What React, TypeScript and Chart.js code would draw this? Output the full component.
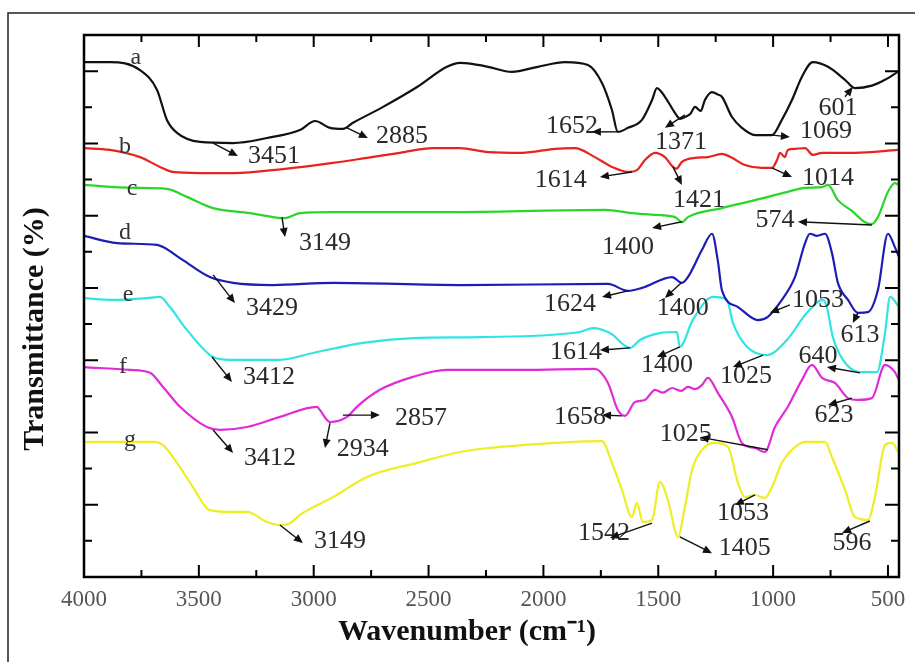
import { useEffect, useRef } from 'react';
import { Chart, registerables } from 'chart.js';

Chart.register(...registerables);

// ---------- data ----------
const wavenumberTicks = [4000, 3500, 3000, 2500, 2000, 1500, 1000, 500];
const seriesNames = ['a', 'b', 'c', 'd', 'e', 'f', 'g'];
const seriesColors = ['#111111', '#e8221e', '#2ad62a', '#1c1cb6', '#30e4e4', '#e02cd6', '#eeee26'];
// [wavenumber, transmittance (offset, arbitrary units)]
const nameAnchors: [number, number][] = [
  [3774, 143.6], [3822, 119.0], [3791, 107.4], [3822, 95.2], [3808, 78.1], [3830, 58.1], [3800, 37.9],
];

const spectrumA: [number, number][] = [
  [4000, 142.5], [3887, 142.5], [3756, 140.3], [3682, 134.8], [3639, 126.5], [3595, 122.9], [3495, 120.4],
  [3351, 120.1], [3203, 121.5], [3060, 123.7], [2994, 126.2], [2929, 124.3], [2873, 124.0], [2829, 125.7],
  [2698, 130.1], [2550, 135.6], [2420, 141.2], [2363, 142.3], [2311, 142.0], [2241, 141.2], [2137, 139.8],
  [2024, 141.2], [1906, 142.5], [1806, 141.7], [1745, 136.7], [1702, 129.3], [1676, 123.2], [1632, 124.3],
  [1571, 126.5], [1527, 132.0], [1506, 135.3], [1471, 132.9], [1427, 128.4], [1405, 126.8], [1384, 127.3],
  [1360, 128.2], [1340, 130.1], [1315, 129.0], [1297, 132.0], [1266, 134.2], [1240, 133.5], [1223, 132.9],
  [1179, 127.3], [1136, 124.3], [1079, 122.3], [1005, 122.3], [962, 126.5], [918, 132.0], [875, 138.4],
  [827, 142.5], [761, 141.2], [687, 137.6], [644, 135.3], [570, 136.0], [513, 137.6], [457, 139.8],
];

const spectrumB: [number, number][] = [
  [4000, 118.7], [3887, 118.2], [3756, 116.2], [3669, 113.5], [3613, 112.1], [3495, 111.8], [3351, 111.8],
  [3134, 112.9], [2916, 114.6], [2768, 116.0], [2624, 117.4], [2481, 118.7], [2363, 118.7], [2241, 117.6],
  [2093, 117.4], [1950, 118.5], [1863, 118.7], [1776, 116.2], [1702, 113.5], [1632, 112.1], [1593, 112.6],
  [1558, 115.4], [1514, 117.4], [1471, 116.2], [1436, 113.5], [1421, 113.0], [1397, 114.9], [1340, 116.0],
  [1284, 116.2], [1223, 117.1], [1179, 116.0], [1123, 114.0], [1049, 113.2], [1005, 113.2], [983, 115.4],
  [970, 117.4], [949, 116.2], [936, 118.2], [905, 118.5], [861, 118.7], [827, 116.8], [787, 117.4],
  [644, 117.4], [457, 118.2],
];

const spectrumC: [number, number][] = [
  [4000, 108.5], [3787, 107.7], [3639, 107.4], [3552, 105.2], [3438, 102.1], [3277, 100.7], [3177, 99.6],
  [3130, 99.3], [3060, 100.7], [2916, 101.0], [2363, 101.0], [1732, 101.6], [1615, 100.7], [1514, 100.2],
  [1427, 99.6], [1397, 98.2], [1371, 99.6], [1223, 102.1], [1079, 104.3], [936, 106.6], [861, 107.7],
  [787, 107.9], [761, 108.5], [718, 104.3], [657, 101.3], [600, 98.2], [570, 97.7], [544, 99.6], [500, 106.6],
  [470, 109.0], [452, 108.5],
];

const spectrumD: [number, number][] = [
  [4000, 94.4], [3856, 92.4], [3682, 91.9], [3656, 91.3], [3569, 87.7], [3452, 83.0], [3351, 81.4],
  [3177, 80.8], [2916, 81.4], [2363, 80.8], [1719, 81.1], [1632, 79.2], [1571, 80.0], [1440, 83.0],
  [1397, 81.4], [1371, 83.0], [1310, 90.5], [1266, 95.0], [1240, 87.2], [1223, 79.4], [1153, 74.7],
  [1066, 71.1], [1023, 72.0], [962, 76.7], [905, 83.0], [861, 92.4], [840, 95.0], [809, 94.4], [774, 95.0],
  [744, 89.7], [718, 81.4], [674, 76.7], [631, 73.1], [587, 73.3], [544, 79.4], [500, 95.0], [470, 91.3],
  [452, 88.6],
];

const spectrumE: [number, number][] = [
  [4000, 77.2], [3874, 76.7], [3726, 77.2], [3669, 77.5], [3626, 74.7], [3552, 68.4], [3438, 60.9],
  [3364, 60.1], [3147, 60.1], [3003, 62.0], [2786, 64.8], [2568, 66.1], [2276, 66.4], [1841, 67.8],
  [1784, 68.9], [1710, 67.5], [1623, 63.4], [1580, 65.6], [1493, 67.5], [1419, 67.8], [1406, 63.7],
  [1350, 71.1], [1262, 77.5], [1201, 76.7], [1175, 70.3], [1114, 63.7], [1027, 61.4], [940, 65.6],
  [853, 73.1], [783, 76.7], [766, 74.7], [740, 66.4], [696, 60.1], [622, 56.7], [548, 56.7], [513, 67.5],
  [491, 77.5], [452, 74.7],
];

const spectrumF: [number, number][] = [
  [4000, 58.1], [3800, 57.3], [3713, 56.5], [3656, 52.6], [3582, 47.1], [3465, 41.5], [3408, 40.7],
  [3290, 41.5], [3147, 44.3], [2986, 47.1], [2973, 46.2], [2929, 42.9], [2855, 44.3], [2812, 47.1],
  [2712, 51.8], [2568, 55.4], [2420, 57.3], [2093, 57.3], [1776, 57.6], [1719, 53.7], [1676, 46.2],
  [1645, 44.6], [1602, 48.4], [1558, 49.0], [1514, 51.8], [1480, 51.0], [1440, 52.3], [1400, 51.5],
  [1371, 52.6], [1340, 52.0], [1310, 53.1], [1284, 55.1], [1240, 50.9], [1179, 44.3], [1136, 37.1],
  [1079, 35.7], [1036, 34.6], [992, 41.5], [936, 47.1], [875, 54.5], [831, 58.7], [787, 55.1], [731, 53.7],
  [674, 49.5], [631, 49.0], [570, 49.5], [513, 58.7], [470, 56.7], [452, 54.5],
];

const spectrumG: [number, number][] = [
  [4000, 37.4], [3700, 37.4], [3656, 36.5], [3595, 31.6], [3526, 24.9], [3452, 18.5], [3351, 18.0],
  [3290, 18.0], [3203, 15.2], [3147, 14.4], [3103, 14.9], [3060, 17.2], [2916, 22.1], [2768, 27.7],
  [2550, 31.6], [2363, 34.6], [2241, 35.7], [2093, 36.5], [1950, 37.1], [1745, 37.6], [1702, 31.6],
  [1658, 24.1], [1615, 16.6], [1593, 20.5], [1567, 15.2], [1527, 15.8], [1493, 26.3], [1458, 21.3],
  [1414, 11.1], [1384, 19.4], [1353, 29.6], [1297, 36.0], [1253, 37.1], [1197, 36.0], [1153, 26.0],
  [1123, 22.1], [1079, 22.7], [1036, 21.9], [1005, 24.9], [962, 31.6], [918, 35.2], [861, 37.4], [774, 37.4],
  [744, 33.2], [687, 24.1], [644, 16.6], [587, 15.8], [557, 22.1], [513, 36.5], [483, 37.1], [452, 34.3],
];

const spectra = [spectrumA, spectrumB, spectrumC, spectrumD, spectrumE, spectrumF, spectrumG];

// peak labels: text, label centre, arrow start, arrow head (all in data units)
type Peak = { text: string; at: [number, number]; from: [number, number]; to: [number, number] };
const peakLabels: Peak[] = [
  { text: '3451', at: [3173, 116.5], from: [3438, 120.1], to: [3330, 116.5] },
  { text: '2885', at: [2616, 122.0], from: [2855, 124.3], to: [2764, 121.5] },
  { text: '1652', at: [1876, 124.8], from: [1676, 123.2], to: [1789, 123.2] },
  { text: '1371', at: [1401, 120.4], from: [1384, 127.9], to: [1471, 124.3] },
  { text: '1069', at: [770, 123.4], from: [1005, 122.3], to: [927, 121.8] },
  { text: '601', at: [718, 129.8], from: [687, 132.9], to: [653, 135.6] },
  { text: '1614', at: [1924, 109.9], from: [1615, 112.1], to: [1754, 110.7] },
  { text: '1421', at: [1323, 104.3], from: [1436, 113.5], to: [1397, 108.5] },
  { text: '1014', at: [761, 110.4], from: [1005, 113.2], to: [918, 110.7] },
  { text: '3149', at: [2951, 92.4], from: [3138, 99.6], to: [3125, 94.1] },
  { text: '1400', at: [1632, 91.3], from: [1397, 98.3], to: [1527, 96.6] },
  { text: '574', at: [992, 98.8], from: [570, 97.4], to: [892, 98.3] },
  { text: '3429', at: [3182, 74.5], from: [3438, 83.6], to: [3343, 75.8] },
  { text: '1624', at: [1884, 75.6], from: [1632, 79.2], to: [1745, 77.5] },
  { text: '1400', at: [1393, 74.5], from: [1397, 81.6], to: [1471, 77.2] },
  { text: '1053', at: [805, 76.7], from: [927, 75.3], to: [1014, 73.1] },
  { text: '613', at: [622, 67.0], from: [631, 73.1], to: [653, 70.3] },
  { text: '3412', at: [3195, 55.4], from: [3443, 60.9], to: [3356, 54.0] },
  { text: '1614', at: [1858, 62.3], from: [1623, 63.4], to: [1754, 62.8] },
  { text: '1400', at: [1462, 58.7], from: [1406, 63.7], to: [1506, 60.9] },
  { text: '1025', at: [1118, 55.6], from: [1044, 61.4], to: [1175, 58.1] },
  { text: '640', at: [805, 61.2], from: [622, 56.5], to: [766, 58.1] },
  { text: '3412', at: [3190, 32.9], from: [3438, 40.7], to: [3351, 34.3] },
  { text: '2934', at: [2786, 35.4], from: [2929, 42.6], to: [2951, 35.7] },
  { text: '2857', at: [2533, 44.0], from: [2873, 44.8], to: [2712, 44.8] },
  { text: '1658', at: [1841, 44.3], from: [1658, 44.6], to: [1745, 44.8] },
  { text: '623', at: [735, 44.8], from: [657, 49.5], to: [761, 47.6] },
  { text: '1025', at: [1380, 39.6], from: [1023, 35.2], to: [1319, 38.7] },
  { text: '3149', at: [2886, 10.0], from: [3147, 14.4], to: [3047, 9.4] },
  { text: '1053', at: [1131, 17.7], from: [1079, 22.7], to: [1166, 19.9] },
  { text: '1542', at: [1736, 12.2], from: [1527, 14.9], to: [1710, 10.8] },
  { text: '1405', at: [1123, 8.0], from: [1406, 11.1], to: [1266, 6.6] },
  { text: '596', at: [657, 9.4], from: [579, 15.5], to: [700, 12.2] },
];

const xTitle = 'Wavenumber (cm\u207B\u00B9)';
const yTitle = 'Transmittance (%)';
const SERIF = "'Liberation Serif', 'Times New Roman', serif";

const decorPlugin = {
  id: 'decor',
  afterDatasetsDraw(chart: any) {
    const { ctx, chartArea: ca } = chart;
    const xs = chart.scales.x;
    const ys = chart.scales.y;
    ctx.save();

    // outer frame of the figure
    ctx.strokeStyle = '#222';
    ctx.lineWidth = 1.5;
    ctx.beginPath();
    ctx.moveTo(8, 700);
    ctx.lineTo(8, 13);
    ctx.lineTo(930, 13);
    ctx.stroke();

    // plot frame
    ctx.strokeStyle = '#000';
    ctx.lineWidth = 2.5;
    ctx.strokeRect(ca.left, ca.top, ca.right - ca.left, ca.bottom - ca.top);

    // x tick marks (inward, top and bottom)
    ctx.lineWidth = 2;
    for (let v = 500; v <= 4000; v += 250) {
      if (v < xs.min || v > xs.max) continue;
      const p = xs.getPixelForValue(v);
      const len = v % 500 === 0 ? 12 : 7;
      ctx.beginPath();
      ctx.moveTo(p, ca.bottom);
      ctx.lineTo(p, ca.bottom - len);
      ctx.moveTo(p, ca.top);
      ctx.lineTo(p, ca.top + len);
      ctx.stroke();
    }
    // y tick marks (inward, left and right)
    for (let v = 10; v < 150; v += 10) {
      const p = ys.getPixelForValue(v);
      const len = v % 20 === 0 ? 14 : 8;
      ctx.beginPath();
      ctx.moveTo(ca.left, p);
      ctx.lineTo(ca.left + len, p);
      ctx.moveTo(ca.right, p);
      ctx.lineTo(ca.right - len, p);
      ctx.stroke();
    }

    // series letters
    ctx.fillStyle = '#333';
    ctx.font = `24px ${SERIF}`;
    ctx.textAlign = 'center';
    ctx.textBaseline = 'middle';
    seriesNames.forEach((n, i) => {
      const [wx, wy] = nameAnchors[i];
      ctx.fillText(n, xs.getPixelForValue(wx), ys.getPixelForValue(wy));
    });

    // peak labels with arrows
    ctx.font = `26px ${SERIF}`;
    peakLabels.forEach((pk) => {
      ctx.fillStyle = '#2a2a2a';
      ctx.fillText(pk.text, xs.getPixelForValue(pk.at[0]), ys.getPixelForValue(pk.at[1]));
      const x1 = xs.getPixelForValue(pk.from[0]);
      const y1 = ys.getPixelForValue(pk.from[1]);
      const x2 = xs.getPixelForValue(pk.to[0]);
      const y2 = ys.getPixelForValue(pk.to[1]);
      const ang = Math.atan2(y2 - y1, x2 - x1);
      const hl = 9;
      const hw = 4;
      ctx.strokeStyle = '#111';
      ctx.lineWidth = 1.4;
      ctx.beginPath();
      ctx.moveTo(x1, y1);
      ctx.lineTo(x2 - Math.cos(ang) * hl * 0.6, y2 - Math.sin(ang) * hl * 0.6);
      ctx.stroke();
      ctx.fillStyle = '#111';
      ctx.beginPath();
      ctx.moveTo(x2, y2);
      ctx.lineTo(x2 - Math.cos(ang) * hl - Math.sin(ang) * hw, y2 - Math.sin(ang) * hl + Math.cos(ang) * hw);
      ctx.lineTo(x2 - Math.cos(ang) * hl + Math.sin(ang) * hw, y2 - Math.sin(ang) * hl - Math.cos(ang) * hw);
      ctx.closePath();
      ctx.fill();
    });

    // axis titles
    ctx.fillStyle = '#111';
    ctx.font = `bold 30px ${SERIF}`;
    ctx.textAlign = 'center';
    ctx.textBaseline = 'alphabetic';
    ctx.fillText(xTitle, 467, 640);
    ctx.save();
    ctx.translate(43, 329);
    ctx.rotate(-Math.PI / 2);
    ctx.fillText(yTitle, 0, 0);
    ctx.restore();

    ctx.restore();
  },
};

export default function App() {
  const ref = useRef<HTMLCanvasElement | null>(null);
  useEffect(() => {
    if (!ref.current) return;
    const chart = new Chart(ref.current, {
      type: 'line',
      data: {
        datasets: spectra.map((s, i) => ({
          label: seriesNames[i],
          data: s.map(([x, y]) => ({ x, y })),
          borderColor: seriesColors[i],
          borderWidth: 2.2,
          pointRadius: 0,
          fill: false,
          cubicInterpolationMode: 'monotone' as const,
        })),
      },
      options: {
        animation: false,
        responsive: false,
        devicePixelRatio: 1,
        layout: { padding: { left: 84, right: 16, top: 35, bottom: 0 } },
        plugins: { legend: { display: false }, tooltip: { enabled: false } },
        scales: {
          x: {
            type: 'linear',
            reverse: true,
            min: 452,
            max: 4000,
            grid: { display: false, drawTicks: false },
            border: { display: false },
            afterFit: (scale: any) => {
              scale.height = 85;
            },
            afterBuildTicks: (scale: any) => {
              scale.ticks = wavenumberTicks.map((v) => ({ value: v }));
            },
            ticks: {
              autoSkip: false,
              maxRotation: 0,
              padding: 9,
              color: '#555',
              font: { family: SERIF, size: 23 },
              callback: (value: any) => String(value),
            },
          },
          y: {
            type: 'linear',
            min: 0,
            max: 150,
            display: false,
          },
        },
      },
      plugins: [decorPlugin],
    });
    return () => chart.destroy();
  }, []);
  return (
    <div style={{ position: 'fixed', left: 0, top: 0, width: 915, height: 662, background: '#fff' }}>
      <canvas ref={ref} width={915} height={662} />
    </div>
  );
}
